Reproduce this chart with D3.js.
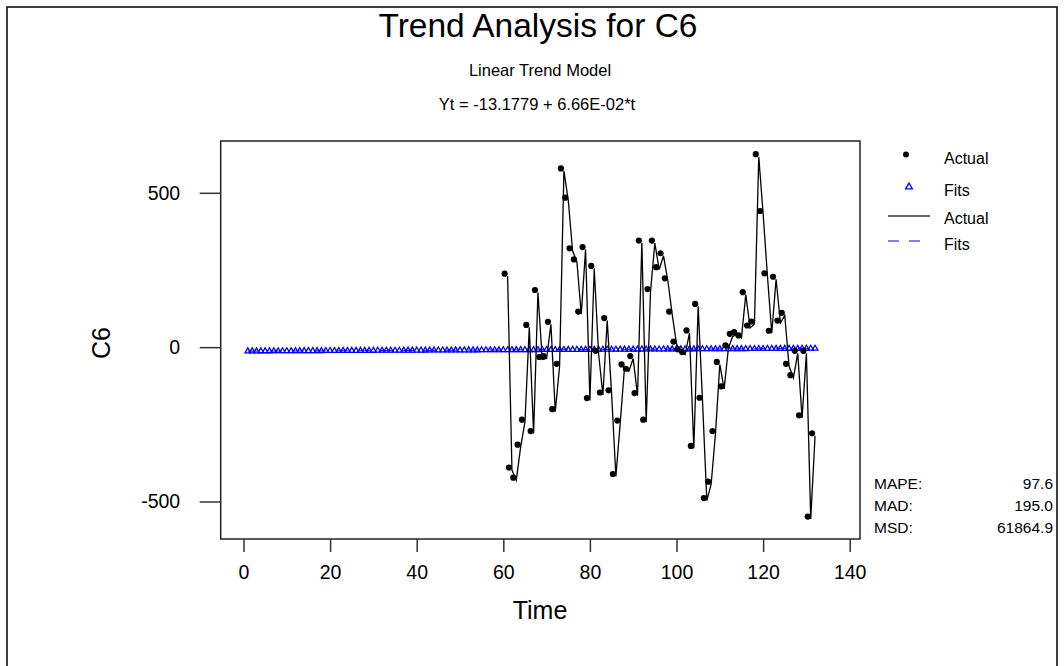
<!DOCTYPE html>
<html><head><meta charset="utf-8">
<script src="https://cdn.jsdelivr.net/npm/d3@7"></script>
<style>
body{margin:0;background:#fff}
svg{display:block}
text{font-family:"Liberation Sans",Arial,Helvetica,sans-serif;fill:#000}
</style>
</head><body><div id="chart"></div>
<script>
// ---------------- data ----------------
const titleText = "Trend Analysis for C6";
const subtitleText = "Linear Trend Model";
const equationText = "Yt = -13.1779 + 6.66E-02*t";
const xLabel = "Time";
const yLabel = "C6";
const xTicks = [0, 20, 40, 60, 80, 100, 120, 140];
const yTicks = [-500, 0, 500];

const actualStart = 61;
const actualValues = [
  230, -398, -431, -324, -243, 64, -280, 177, -40, -37,
  74, -209, -62, 571, 476, 312, 276, 107, 316, -173,
  255, -20, -155, 86, -148, -419, -246, -64, -78, -37,
  -157, 337, -243, 180, 337, 251, 296, 215, 107, 10,
  -15, -24, 46, -328, 132, -172, -497, -444, -280, -56,
  -135, -2, 35, 41, 30, 170, 62, 75, 617, 433,
  231, 45, 220, 78, 103, -62, -99, -20, -229, -20,
  -557, -287
];

const fitsStart = 1;
const fitsValues = [
  -13.1, -13.0, -13.0, -12.9, -12.8, -12.8, -12.7, -12.6, -12.6, -12.5,
  -12.4, -12.4, -12.3, -12.2, -12.2, -12.1, -12.0, -12.0, -11.9, -11.8,
  -11.8, -11.7, -11.6, -11.6, -11.5, -11.4, -11.4, -11.3, -11.2, -11.2,
  -11.1, -11.0, -11.0, -10.9, -10.8, -10.8, -10.7, -10.6, -10.6, -10.5,
  -10.5, -10.4, -10.3, -10.3, -10.2, -10.1, -10.1, -10.0, -9.9, -9.9,
  -9.8, -9.7, -9.7, -9.6, -9.5, -9.5, -9.4, -9.3, -9.3, -9.2,
  -9.1, -9.1, -9.0, -8.9, -8.9, -8.8, -8.7, -8.7, -8.6, -8.5,
  -8.5, -8.4, -8.3, -8.3, -8.2, -8.1, -8.1, -8.0, -7.9, -7.9,
  -7.8, -7.7, -7.7, -7.6, -7.5, -7.5, -7.4, -7.3, -7.3, -7.2,
  -7.1, -7.1, -7.0, -6.9, -6.9, -6.8, -6.7, -6.7, -6.6, -6.5,
  -6.5, -6.4, -6.3, -6.3, -6.2, -6.1, -6.1, -6.0, -5.9, -5.9,
  -5.8, -5.7, -5.7, -5.6, -5.5, -5.5, -5.4, -5.3, -5.3, -5.2,
  -5.1, -5.1, -5.0, -4.9, -4.9, -4.8, -4.7, -4.7, -4.6, -4.5,
  -4.5, -4.4
];

const statLabels = ["MAPE:", "MAD:", "MSD:"];
const statValues = ["97.6", "195.0", "61864.9"];
const legendLabels = ["Actual", "Fits", "Actual", "Fits"];

// ---------------- layout ----------------
const W = 1064, H = 666;
const frame = {left: 220.7, right: 860, top: 141, bottom: 539};
const blue = "#0000ff";

const svg = d3.select("#chart").append("svg").attr("width", W).attr("height", H);
svg.append("rect").attr("width", W).attr("height", H).attr("fill", "#fff");
// outer border
svg.append("rect").attr("x", 7).attr("y", 7).attr("width", 1050).attr("height", 700)
  .attr("fill", "none").attr("stroke", "#000").attr("stroke-width", 1.5);

const x = d3.scaleLinear().domain([0, 140]).range([243.5, 849.7]);
const y = d3.scaleLinear().domain([-500, 500]).range([501.5, 192.8]);

// titles
svg.append("text").attr("x", 538).attr("y", 37).attr("text-anchor", "middle")
  .style("font-size", "33.5px").text(titleText);
svg.append("text").attr("x", 540).attr("y", 76).attr("text-anchor", "middle")
  .style("font-size", "16.5px").text(subtitleText);
svg.append("text").attr("x", 537).attr("y", 110).attr("text-anchor", "middle")
  .style("font-size", "16.5px").text(equationText);

// frame
svg.append("rect").attr("x", frame.left).attr("y", frame.top)
  .attr("width", frame.right - frame.left).attr("height", frame.bottom - frame.top)
  .attr("fill", "none").attr("stroke", "#222").attr("stroke-width", 1.5);

// axes
const fmt = d => String(d);
const yAxis = svg.append("g").attr("transform", `translate(${frame.left},0)`)
  .call(d3.axisLeft(y).tickValues(yTicks).tickSize(21).tickPadding(19.5).tickFormat(fmt));
const xAxis = svg.append("g").attr("transform", `translate(0,${frame.bottom})`)
  .call(d3.axisBottom(x).tickValues(xTicks).tickSize(13).tickPadding(13.5).tickFormat(fmt));
[xAxis, yAxis].forEach(a => {
  a.select(".domain").remove();
  a.selectAll(".tick line").attr("stroke", "#333").attr("stroke-width", 1.5);
  a.selectAll(".tick text").style("font-size", "19.5px")
    .style("font-family", '"Liberation Sans",Arial,sans-serif').attr("fill", "#000");
});

// axis labels
svg.append("text").attr("x", 540).attr("y", 619).attr("text-anchor", "middle")
  .style("font-size", "25px").text(xLabel);
svg.append("text").attr("transform", "translate(110,343) rotate(-90)").attr("text-anchor", "middle")
  .style("font-size", "25px").text(yLabel);

// data
const actual = actualValues.map((v, i) => ({t: actualStart + i, v}));
const fits = fitsValues.map((v, i) => ({t: fitsStart + i, v}));
const line = d3.line().x(d => x(d.t)).y(d => y(d.v));

svg.append("path").datum(fits).attr("d", line).attr("fill", "none")
  .attr("stroke", blue).attr("stroke-width", 1).attr("stroke-dasharray", "12,10");
const tri = d3.symbol(d3.symbolTriangle, 14);
svg.append("g").selectAll("path").data(fits).join("path")
  .attr("transform", d => `translate(${x(d.t)},${y(d.v)})`)
  .attr("d", tri).attr("fill", "none").attr("stroke", blue).attr("stroke-width", 1.3);

svg.append("path").datum(actual).attr("d", line).attr("fill", "none")
  .attr("stroke", "#000").attr("stroke-width", 1.3);
svg.append("g").attr("transform", "translate(-3,-2.5)").selectAll("circle").data(actual).join("circle")
  .attr("cx", d => x(d.t)).attr("cy", d => y(d.v)).attr("r", 3.1).attr("fill", "#000");

// legend
const lg = svg.append("g");
const legendY = [158, 190, 218, 244];
lg.append("circle").attr("cx", 906).attr("cy", 154.5).attr("r", 3).attr("fill", "#000");
lg.append("path").attr("transform", "translate(909,187)").attr("d", d3.symbol(d3.symbolTriangle, 20))
  .attr("fill", "none").attr("stroke", blue).attr("stroke-width", 1.3);
lg.append("line").attr("x1", 888).attr("x2", 930).attr("y1", 216).attr("y2", 216)
  .attr("stroke", "#333").attr("stroke-width", 1.3);
lg.append("line").attr("x1", 888).attr("x2", 922).attr("y1", 241).attr("y2", 241)
  .attr("stroke", blue).attr("stroke-width", 1.2).attr("stroke-dasharray", "11,10");
lg.selectAll("text").data(legendLabels).join("text")
  .attr("x", 944).attr("y", (d, i) => legendY[i]).attr("dy", "0.35em")
  .style("font-size", "16px").text(d => d);

// statistics
const statY = [489, 511, 533];
svg.append("g").selectAll("text").data(statLabels).join("text")
  .attr("x", 874).attr("y", (d, i) => statY[i]).style("font-size", "15.5px").text(d => d);
svg.append("g").selectAll("text").data(statValues).join("text")
  .attr("x", 1053).attr("y", (d, i) => statY[i]).attr("text-anchor", "end")
  .style("font-size", "15.5px").text(d => d);
</script>
</body></html>
